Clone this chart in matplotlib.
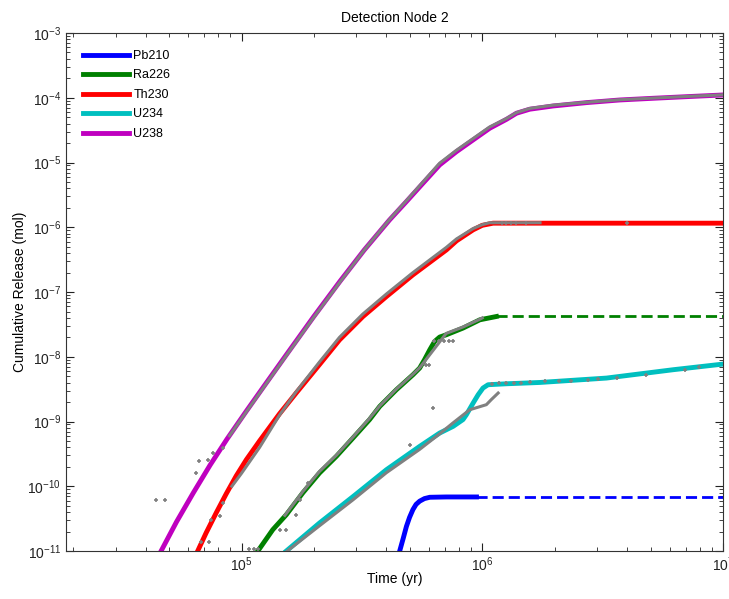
"""Cumulative release at detection node 2, log-log."""

import matplotlib.pyplot as plt
import numpy as np

plt.rcParams["font.family"] = ["Liberation Sans", "DejaVu Sans"]
plt.rcParams["mathtext.fontset"] = "custom"
plt.rcParams["mathtext.rm"] = "Liberation Sans"

# Model curves (log10 time in yr, log10 release in mol)
u238_t = [4.666, 4.73, 4.80, 4.87, 4.94, 5.02, 5.10, 5.19, 5.30, 5.41, 5.51, 5.615, 5.685, 5.754,
          5.823, 5.893, 5.962, 6.031, 6.101, 6.142, 6.197, 6.294, 6.433, 6.572, 6.710, 6.849, 7.0]
u238_r = [-11.0, -10.55, -10.10, -9.67, -9.27, -8.84, -8.42, -7.95, -7.38, -6.83, -6.35, -5.886, -5.603, -5.319,
          -5.037, -4.832, -4.651, -4.471, -4.332, -4.239, -4.177, -4.127, -4.075, -4.034, -4.008, -3.983, -3.957]

th230_t = [4.818, 4.853, 4.895, 4.936, 4.978, 5.02, 5.075, 5.158, 5.227, 5.324, 5.407, 5.504, 5.602,
           5.712, 5.851, 5.893, 5.962, 6.0, 6.045, 7.0]
th230_r = [-11.0, -10.72, -10.41, -10.12, -9.84, -9.59, -9.30, -8.88, -8.56, -8.12, -7.74, -7.38, -7.07,
           -6.735, -6.35, -6.21, -6.04, -5.97, -5.937, -5.937]

ra226_t = [5.068, 5.130, 5.186, 5.255, 5.324, 5.394, 5.463, 5.532, 5.574, 5.643, 5.712, 5.740, 5.760,
           5.782, 5.802, 5.823, 5.851, 5.920, 5.990, 6.059]
ra226_r = [-11.0, -10.67, -10.44, -10.10, -9.795, -9.538, -9.255, -8.97, -8.767, -8.51, -8.278, -8.174, -8.046,
           -7.892, -7.764, -7.696, -7.66, -7.557, -7.429, -7.378]

u234_t = [5.186, 5.324, 5.463, 5.602, 5.740, 5.823, 5.879, 5.92, 5.934, 5.962, 5.983, 6.003, 6.024,
          6.101, 6.239, 6.516, 6.793, 7.0]
u234_r = [-11.0, -10.567, -10.16, -9.744, -9.384, -9.178, -9.075, -8.97, -8.895, -8.715, -8.586, -8.483, -8.432,
          -8.417, -8.397, -8.329, -8.20, -8.113]

pb210_t = [5.657, 5.672, 5.685, 5.698, 5.712, 5.725, 5.74, 5.76, 5.782, 5.851, 5.976]
pb210_r = [-11.0, -10.8, -10.62, -10.48, -10.36, -10.28, -10.23, -10.19, -10.17, -10.165, -10.165]

# extrapolated plateaus (dashed)
ra226_ext_t = [6.059, 7.0]
ra226_ext_r = [-7.378, -7.378]
pb210_ext_t = [5.976, 7.0]
pb210_ext_r = [-10.165, -10.165]

# Comparison results (gray), dense parts
g_u238_t = [4.95, 5.02, 5.10, 5.19, 5.30, 5.41, 5.51, 5.615, 5.685, 5.754, 5.823, 5.893, 5.962,
            6.031, 6.101, 6.142, 6.197, 6.294, 6.433, 6.572, 6.710, 6.849, 7.0]
g_u238_r = [-9.22, -8.85, -8.43, -7.96, -7.39, -6.84, -6.35, -5.88, -5.59, -5.30, -5.01, -4.81, -4.63,
            -4.45, -4.32, -4.23, -4.165, -4.115, -4.07, -4.03, -4.005, -3.98, -3.955]

g_th230_t = [4.96, 5.00, 5.03, 5.075, 5.158, 5.227, 5.324, 5.407, 5.504, 5.602, 5.712, 5.851,
             5.893, 5.962, 6.0, 6.031, 6.24]
g_th230_r = [-10.0, -9.80, -9.64, -9.40, -8.90, -8.54, -8.08, -7.70, -7.34, -7.03, -6.70, -6.31,
             -6.18, -6.02, -5.96, -5.93, -5.93]

g_ra226_t = [5.18, 5.255, 5.324, 5.394, 5.463, 5.532, 5.574, 5.643, 5.712, 5.74, 5.85, 5.92, 5.99, 6.0]
g_ra226_r = [-10.45, -10.08, -9.77, -9.52, -9.24, -8.95, -8.76, -8.50, -8.27, -8.17, -7.64, -7.54, -7.42, -7.40]

g_u234_t = [5.19, 5.324, 5.463, 5.602, 5.74, 5.823, 5.879, 5.948, 6.017, 6.038, 6.066]
g_u234_r = [-11.0, -10.61, -10.21, -9.79, -9.43, -9.19, -9.02, -8.818, -8.74, -8.66, -8.56]

# Comparison results (gray), scattered points
g_pts_t = [4.645, 4.681, 4.809, 4.825, 4.86, 4.88, 4.922,
           4.832, 4.867, 4.874, 4.909, 4.922,
           5.03, 5.05, 5.07, 5.158, 5.186, 5.227, 5.241, 5.276, 5.698, 5.768, 5.78, 5.796,
           5.80, 5.82, 5.84, 5.86, 5.88,
           6.04, 6.07, 6.10, 6.13, 6.16, 6.20, 6.26, 6.32, 6.37, 6.44, 6.48, 6.56, 6.68, 6.84, 6.90,
           6.08, 6.10, 6.12, 6.14, 6.18, 6.6]
g_pts_r = [-10.21, -10.21, -9.795, -9.616, -9.60, -9.486, -9.41,
           -10.866, -10.866, -10.515, -10.46, -10.26,
           -10.97, -10.97, -10.97, -10.67, -10.67, -10.44, -10.21, -9.95, -9.36, -8.12, -8.12, -8.79,
           -7.76, -7.76, -7.76, -7.76, -7.76,
           -8.42, -8.41, -8.41, -8.40, -8.40, -8.39, -8.38, -8.37, -8.37, -8.36, -8.35, -8.33, -8.28, -8.20, -8.16,
           -5.937, -5.937, -5.937, -5.937, -5.937, -5.937]

colors = {"Pb210": "#0000ff", "Ra226": "#008000", "Th230": "#ff0000",
          "U234": "#00bfbf", "U238": "#bf00bf"}
gray = "#808080"


def p(v):
    return np.power(10.0, v)


fig = plt.figure(figsize=(7.29, 5.99), dpi=100)
ax = fig.add_axes([0.0905, 0.0801, 0.9013, 0.8648])

lw = 3.5
ax.plot(p(pb210_t), p(pb210_r), color=colors["Pb210"], lw=lw, label="Pb210")
ax.plot(p(ra226_t), p(ra226_r), color=colors["Ra226"], lw=lw, label="Ra226")
ax.plot(p(th230_t), p(th230_r), color=colors["Th230"], lw=lw, label="Th230")
ax.plot(p(u234_t), p(u234_r), color=colors["U234"], lw=lw, label="U234")
ax.plot(p(u238_t), p(u238_r), color=colors["U238"], lw=lw, label="U238")

ax.plot(p(ra226_ext_t), p(ra226_ext_r), color=colors["Ra226"], lw=2, dashes=(4, 1.8))
ax.plot(p(pb210_ext_t), p(pb210_ext_r), color=colors["Pb210"], lw=2, dashes=(4, 1.8))

for t, r in [(g_u238_t, g_u238_r), (g_th230_t, g_th230_r),
             (g_ra226_t, g_ra226_r), (g_u234_t, g_u234_r)]:
    ax.plot(p(t), p(r), color=gray, lw=2.2, zorder=3)
ax.plot(p(g_pts_t), p(g_pts_r), ls="none", marker="+", ms=3.5, mew=1.2, color=gray, zorder=3)

ax.set_xscale("log")
ax.set_yscale("log")
ax.set_xlim(1.866e4, 1e7)
ax.set_ylim(1e-11, 1e-3)
ax.set_yticks([10.0 ** k for k in range(-11, -2)])

ax.tick_params(which="both", direction="in", top=True, right=True, labelsize=10, colors="#222222")
ax.tick_params(which="major", length=6)
ax.tick_params(which="minor", length=3)
for s in ax.spines.values():
    s.set_color("#333333")

ax.set_xlabel("Time (yr)", fontsize=10, labelpad=-2)
ax.set_ylabel("Cumulative Release (mol)", fontsize=10, labelpad=0.5)
ax.set_title("Detection Node 2", fontsize=10, pad=8)

ax.legend(loc="upper left", frameon=False, fontsize=9, handlelength=3.73,
          handletextpad=0.3, labelspacing=0.6, borderaxespad=0.95, borderpad=0.4)

plt.savefig("out.png", dpi=100)
plt.close()
